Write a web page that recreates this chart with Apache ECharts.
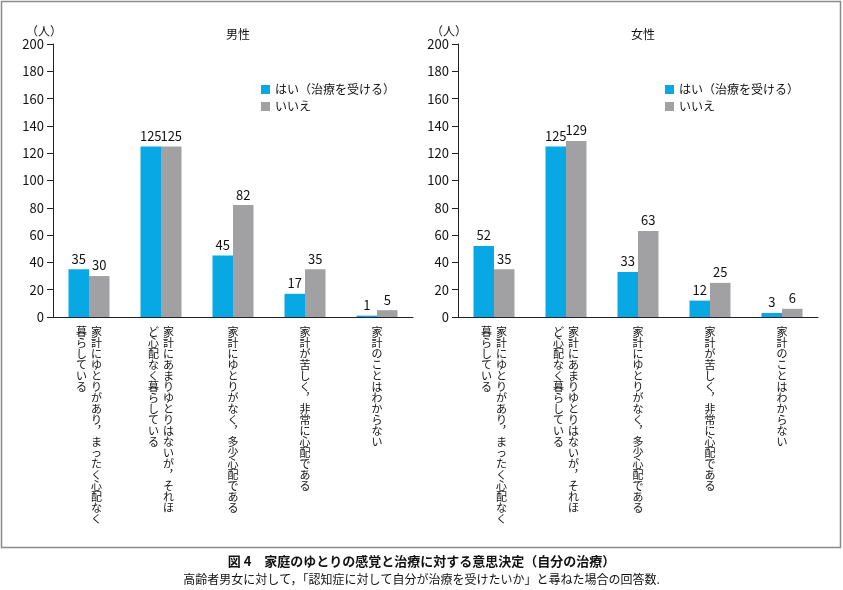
<!DOCTYPE html>
<html>
<head>
<meta charset="utf-8">
<script src="https://cdn.jsdelivr.net/npm/echarts@6/dist/echarts.min.js"></script>
<style>
  html, body { margin: 0; padding: 0; background: #fff; }
  #main { width: 843px; height: 590px; }
</style>
</head>
<body>
<div id="main"></div>
<script>
// 区分（縦書き、\n で列を区切る：右の列から）
const categories = [
  '家計にゆとりがあり︐まったく心配なく\n暮らしている',
  '家計にあまりゆとりはないが︐それほ\nど心配なく暮らしている',
  '家計にゆとりがなく︐多少心配である',
  '家計が苦しく︐非常に心配である',
  '家計のことはわからない'
];
const seriesNames = ['はい（治療を受ける）', 'いいえ'];
const maleYes = [35, 125, 45, 17, 1];
const maleNo = [30, 125, 82, 35, 5];
const femaleYes = [52, 125, 33, 12, 3];
const femaleNo = [35, 129, 63, 25, 6];
const yTicks = { min: 0, max: 200, interval: 20 };

const FONT = '"Noto Sans CJK JP", "Noto Sans", sans-serif';
const BLUE = '#07a8e3';
const GRAY = '#a1a1a3';

// 縦書きラベル：各行に列ごとの1文字を並べる
function verticalLabel(text) {
  const cols = text.split('\n').map(s => Array.from(s)).reverse(); // 左の列から
  const rows = Math.max(...cols.map(c => c.length));
  const lines = [];
  for (let i = 0; i < rows; i++) {
    lines.push(cols.map(c => '{c|' + (c[i] || '　') + '}').join(''));
  }
  return lines.join('\n');
}

const chart = echarts.init(document.getElementById('main'), null, { renderer: 'canvas' });

function yAxis(idx) {
  return {
    type: 'value',
    gridIndex: idx,
    min: yTicks.min,
    max: yTicks.max,
    interval: yTicks.interval,
    axisLine: { show: true, lineStyle: { color: '#222', width: 1 } },
    axisTick: { show: true, length: 6, lineStyle: { color: '#222' } },
    axisLabel: { color: '#111', fontSize: 13, fontFamily: FONT, margin: 9 },
    splitLine: { show: false }
  };
}

function xAxis(idx) {
  return {
    type: 'category',
    gridIndex: idx,
    data: categories,
    axisLine: { lineStyle: { color: '#222', width: 1 } },
    axisTick: { show: false },
    axisLabel: {
      interval: 0,
      margin: 9,
      color: '#111',
      formatter: verticalLabel,
      rich: {
        c: { width: 15, align: 'center', fontSize: 11, lineHeight: 11, fontFamily: FONT, color: '#111' }
      }
    }
  };
}

function bar(name, data, color, idx) {
  return {
    name: name,
    type: 'bar',
    xAxisIndex: idx,
    yAxisIndex: idx,
    data: data,
    barWidth: 20.5,
    barGap: '0%',
    itemStyle: { color: color },
    label: { show: true, position: 'top', distance: 4, color: '#111', fontSize: 13, fontFamily: FONT }
  };
}

function legend(left) {
  return {
    left: left,
    top: 78,
    orient: 'vertical',
    data: seriesNames,
    icon: 'rect',
    itemWidth: 9,
    itemHeight: 9,
    itemGap: 4,
    itemTextGap: 5,
    selectedMode: false,
    textStyle: { color: '#111', fontSize: 12, lineHeight: 13, fontFamily: FONT }
  };
}

function unitText(x) {
  return {
    type: 'text',
    x: x,
    y: 37,
    style: { text: '（人）', font: '12px ' + FONT, fill: '#111', align: 'right', verticalAlign: 'bottom' }
  };
}

chart.setOption({
  animation: false,
  textStyle: { fontFamily: FONT },
  title: [
    { text: '男性', left: 233, top: 23, textAlign: 'center', textStyle: { fontSize: 12, fontWeight: 'normal', color: '#111', fontFamily: FONT } },
    { text: '女性', left: 638, top: 23, textAlign: 'center', textStyle: { fontSize: 12, fontWeight: 'normal', color: '#111', fontFamily: FONT } }
  ],
  legend: [legend(256), legend(660)],
  grid: [
    { left: 53, top: 44, width: 360, height: 273 },
    { left: 458, top: 44, width: 360, height: 273 }
  ],
  xAxis: [xAxis(0), xAxis(1)],
  yAxis: [yAxis(0), yAxis(1)],
  series: [
    bar(seriesNames[0], maleYes, BLUE, 0),
    bar(seriesNames[1], maleNo, GRAY, 0),
    bar(seriesNames[0], femaleYes, BLUE, 1),
    bar(seriesNames[1], femaleNo, GRAY, 1)
  ],
  graphic: [
    {
      type: 'rect',
      shape: { x: 1.5, y: 1.5, width: 839, height: 546 },
      style: { fill: 'none', stroke: '#8a8a8a', lineWidth: 1.5 },
      silent: true
    },
    unitText(62),
    unitText(467),
    {
      type: 'text',
      left: 'center',
      top: 555,
      style: { text: '図 4　家庭のゆとりの感覚と治療に対する意思決定（自分の治療）', font: 'bold 13px ' + FONT, fill: '#111' }
    },
    {
      type: 'text',
      left: 'center',
      top: 573,
      style: { text: '高齢者男女に対して，「認知症に対して自分が治療を受けたいか」と尋ねた場合の回答数.', font: '12px ' + FONT, fill: '#111' }
    }
  ]
});
</script>
</body>
</html>
